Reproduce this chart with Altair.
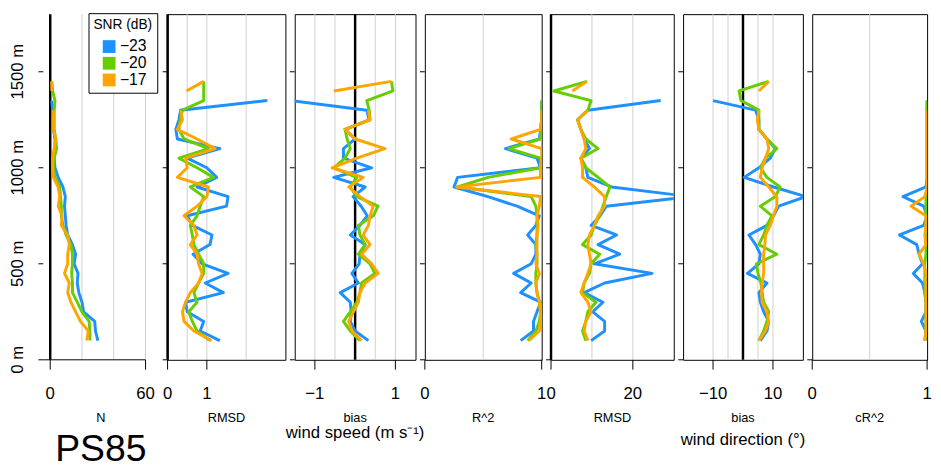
import altair as alt
import pandas as pd

# ---------------- data ----------------
H = [100, 150, 200, 250, 300, 350, 400, 450, 500, 550, 600, 650, 700, 750,
     800, 850, 900, 950, 1000, 1050, 1100, 1150, 1200, 1250, 1300, 1350, 1400, 1450]

SNR = ["\u221223", "\u221220", "\u221217"]
COLORS = ["#1E90FF", "#66CD00", "#FFA500"]

N_m23 = [30, 28.5, 28, 21, 20, 18, 17, 17.5, 15, 16, 14, 11, 10, 9.5, 9, 9.5, 8, 5, 3, 2.5, 3, 3, 2, 2, 1.5, 1, None, None]
N_m20 = [25, 25, 24.5, 20, 17, 14, 14, 13.5, 14, 14, 13, 10, 8, 7, 7, 6.5, 6, 3, 2, 2.5, 4, 3.5, 2.5, 2.5, 2.5, 3, 1.5, 1]
N_m17 = [23, 24, 19, 16, 13, 11, 12, 9, 11, 11, 12, 11, 7, 7.5, 5, 6, 5, 2, 1.5, 1.5, 2.5, 3.5, 2, 2, 2, None, 1, 1]

WS_RMSD_m23 = [1.33, 0.83, 0.92, 0.5, 0.46, 1.42, 0.96, 1.54, 0.88, 0.65, 1.08, 1.13, 0.63, 0.5, 1.5, 1.54, 0.75, 1.25, 1.0, 0.5, 1.33, 0.25, 0.21, 0.29, 0.33, 2.54, None, None]
WS_RMSD_m20 = [1.08, 0.75, 0.63, 0.54, 0.75, 0.67, 0.79, 0.92, 0.92, 0.79, 0.67, 0.63, 0.58, 0.75, 0.83, 0.92, 0.58, 1.17, 0.75, 0.29, 1.04, 0.42, 0.29, 0.32, 0.38, 0.92, 0.92, 0.92]
WS_RMSD_m17 = [1.12, 0.67, 0.42, 0.38, 0.46, 0.58, 0.79, 0.88, 0.79, 0.75, 0.58, 0.75, 0.67, 0.42, 0.75, 1.0, 1.04, 0.25, 0.5, 0.46, 1.21, 0.75, 0.25, 0.38, 0.33, None, 0.48, 0.92]

WS_BIAS_m23 = [0.33, 0.0, -0.12, -0.1, -0.12, -0.37, 0.08, -0.08, 0.1, 0.12, 0.25, -0.12, 0.12, 0.3, 0.15, -0.05, 0.25, -0.53, 0.41, -0.29, -0.29, 0.0, -0.25, 0.35, 0.29, -1.6, None, None]
WS_BIAS_m20 = [0.12, -0.12, -0.29, -0.12, 0.04, 0.12, 0.16, 0.49, 0.37, 0.08, 0.25, 0.12, 0.08, 0.45, 0.57, 0.04, -0.12, 0.04, -0.53, -0.25, -0.12, -0.2, -0.25, 0.37, 0.35, 0.29, 0.94, 0.9]
WS_BIAS_m17 = [0.16, -0.08, -0.16, -0.04, 0.08, 0.12, 0.25, 0.57, 0.41, 0.16, 0.37, 0.2, 0.33, 0.37, 0.45, 0.12, -0.16, 0.2, -0.57, 0.04, 0.74, 0.0, -0.25, 0.37, 0.33, None, -0.53, 0.9]

WS_R2_m23 = [0.82, 0.93, 0.93, 0.96, 0.99, 0.82, 0.91, 0.76, 0.91, 0.95, 0.95, 0.88, 0.95, 0.98, 0.79, 0.54, 0.25, 0.28, 0.99, 0.96, 0.69, 0.98, 0.99, 1.0, 1.0, 1.0, None, None]
WS_R2_m20 = [0.88, 0.95, 0.98, 0.99, 0.98, 0.96, 0.95, 0.95, 0.96, 0.96, 0.95, 0.96, 0.96, 0.96, 0.95, 0.91, 0.28, 0.54, 0.99, 0.99, 0.72, 0.99, 0.99, 1.0, 1.0, 1.0, None, None]
WS_R2_m17 = [0.89, 0.98, 0.99, 0.99, 0.98, 0.96, 0.95, 0.98, 0.95, 0.96, 0.96, 0.96, 0.97, 0.96, 0.98, 0.99, 0.27, 0.99, 0.99, 1.0, 1.0, 0.74, 0.99, 1.0, 1.0, None, None, None]

WD_RMSD_m23 = [9.8, 13.1, 13.1, 10.2, 12.7, 8.1, 13.1, 24.7, 10.6, 16.8, 11.5, 16.0, 9.8, 12.0, 13.5, 34.0, 14.8, 9.0, 8.5, 7.3, 9.4, 8.1, 7.3, 6.5, 9.0, 26.8, None, None]
WD_RMSD_m20 = [8.5, 7.7, 8.5, 9.0, 11.0, 7.7, 8.1, 9.4, 9.8, 11.9, 7.7, 9.8, 10.6, 11.9, 12.7, 13.5, 14.4, 11.5, 8.5, 7.3, 11.5, 8.5, 7.3, 6.5, 9.0, 9.8, 0.7, 8.8]
WD_RMSD_m17 = [9.0, 8.1, 8.5, 9.8, 9.0, 7.3, 8.1, 9.0, 9.8, 9.4, 9.0, 9.4, 10.6, 11.5, 13.1, 13.1, 10.6, 7.7, 7.7, 7.3, 8.5, 8.1, 7.3, 6.5, 9.0, None, 5.2, 8.8]

WD_BIAS_m23 = [5.8, 8.0, 8.6, 6.9, 5.8, 5.3, 8.0, 1.5, 5.3, 5.8, 4.2, 2.0, 8.0, 10.2, 11.9, 21.0, 10.2, 0.4, 5.3, 9.1, 10.8, 8.0, 5.3, 5.3, 4.2, -10.0, None, None]
WD_BIAS_m20 = [5.3, 6.9, 8.0, 8.6, 6.9, 6.4, 6.0, 5.0, 4.5, 11.3, 5.3, 6.9, 8.0, 9.7, 5.8, 10.8, 12.4, 8.0, 5.8, 7.5, 11.3, 8.0, 5.3, 5.3, 5.3, -0.7, -1.3, 8.6]
WD_BIAS_m17 = [5.3, 7.5, 8.6, 8.0, 6.4, 6.2, 6.4, 6.9, 6.9, 6.9, 7.3, 7.5, 9.1, 10.2, 11.3, 11.3, 8.6, 5.8, 6.4, 7.5, 8.6, 8.0, 5.3, 4.8, 5.3, None, 5.3, 8.6]

WD_CR2_m23 = [0.98, 0.99, 0.95, 0.99, 0.99, 0.98, 0.96, 0.88, 0.96, 0.93, 0.91, 0.76, 0.97, 1.0, 0.97, 0.79, 0.99, 1.0, 1.0, 1.0, 1.0, 1.0, 1.0, 1.0, 1.0, 1.0, None, None]
WD_CR2_m20 = [0.99, 0.99, 0.99, 0.99, 0.99, 0.98, 0.98, 0.98, 0.98, 0.99, 0.99, 0.99, 0.99, 0.99, 0.99, 0.99, 1.0, 1.0, 1.0, 1.0, 1.0, 1.0, 1.0, 1.0, 1.0, 1.0, None, None]
WD_CR2_m17 = [0.98, 0.99, 0.99, 0.99, 0.99, 0.99, 0.99, 0.99, 0.97, 0.93, 0.99, 0.98, 0.99, 0.99, 0.86, 0.98, 1.0, 1.0, 1.0, 1.0, 1.0, 1.0, 1.0, 1.0, 1.0, None, None, None]

PANEL_SERIES = [
    [N_m23, N_m20, N_m17],
    [WS_RMSD_m23, WS_RMSD_m20, WS_RMSD_m17],
    [WS_BIAS_m23, WS_BIAS_m20, WS_BIAS_m17],
    [WS_R2_m23, WS_R2_m20, WS_R2_m17],
    [WD_RMSD_m23, WD_RMSD_m20, WD_RMSD_m17],
    [WD_BIAS_m23, WD_BIAS_m20, WD_BIAS_m17],
    [WD_CR2_m23, WD_CR2_m20, WD_CR2_m17],
]
PANEL_TITLES = ["N", "RMSD", "bias", "R^2", "RMSD", "bias", "cR^2"]
PANEL_DOMAINS = [[-4.33, 68.0], [0, 3], [-1.5, 1.5], [0, 1], [0, 30], [-20, 20], [0, 1]]
PANEL_TICKS = [[0, 60], [0, 1], [-1, 1], [0, 1], [0, 20], [-10, 10], [0, 1]]
PANEL_GRIDS = [[20, 40, 60], [0.5, 1, 2], [-1, -0.5, 0.5, 1], [0.5], [10, 20], [-10, -5, 5, 10], [0.5]]
PANEL_ZERO = [True, True, True, False, True, True, False]
PANEL_WIDTHS = [117, 120, 123, 119, 125, 122, 117]
N_AXIS_END = 60

Y_TICKS = [0, 500, 1000, 1500]
Y_DOMAIN = [0, 1800]
GROUP_LABELS = {2: "wind speed (m s\u207b\u00b9)", 5: "wind direction (\u00b0)"}
STATION = "PS85"
LEGEND_TITLE = "SNR (dB)"

FONT = "Liberation Sans"
HEIGHT = 352


def fmt(v):
    return f"{v:g}".replace("-", "\u2212")


def long_df(series):
    rows = []
    for snr, vals in zip(SNR, series):
        seg = 0
        for h, v in zip(H, vals):
            if v is None:
                seg += 1
                continue
            rows.append({"h": h, "v": v, "snr": snr, "seg": f"{snr}_{seg}"})
    return pd.DataFrame(rows)


color_scale = alt.Scale(domain=SNR, range=COLORS)
y_scale = alt.Scale(domain=Y_DOMAIN, nice=False, zero=False)
ytick_df = pd.DataFrame({"yt": Y_TICKS, "lab": [f"{v} m" for v in Y_TICKS]})

panels = []
for i in range(7):
    dom = PANEL_DOMAINS[i]
    w = PANEL_WIDTHS[i]
    xs = alt.Scale(domain=dom, nice=False, zero=False)
    df = long_df(PANEL_SERIES[i])
    tick_df = pd.DataFrame({"t": PANEL_TICKS[i], "lab": [fmt(v) for v in PANEL_TICKS[i]]})

    layers = []
    # legend carrier (zero-size squares), first colour layer of panel 1
    if i == 0:
        layers.append(alt.Chart(df).mark_square(size=0, filled=True, opacity=1).encode(
            x=alt.X("v:Q", scale=xs, axis=None),
            y=alt.Y("h:Q", scale=y_scale, axis=None),
            color=alt.Color("snr:N", scale=color_scale, legend=alt.Legend(
                title=LEGEND_TITLE, orient="none", legendX=46, legendY=-1,
                strokeColor="black", fillColor="white", padding=5,
                symbolType="square", symbolSize=169, symbolStrokeWidth=0,
                symbolOffset=8, labelFontSize=16, titleFontSize=14,
                titleFontWeight="normal", labelOffset=3, rowPadding=1,
                titlePadding=7, labelColor="black", titleColor="black",
                labelFont=FONT, titleFont=FONT))))
    # grid lines
    layers.append(alt.Chart(pd.DataFrame({"g": PANEL_GRIDS[i]})).mark_rule(
        color="#cfcfcf", strokeWidth=1).encode(x=alt.X("g:Q", scale=xs, axis=None)))
    # zero line
    if PANEL_ZERO[i]:
        layers.append(alt.Chart(pd.DataFrame({"z": [0]})).mark_rule(
            color="black", strokeWidth=2.5).encode(x=alt.X("z:Q", scale=xs, axis=None)))

    # data lines, drawn blue, green, orange
    for k, snr in enumerate(SNR):
        sub = df[df["snr"] == snr]
        layers.append(alt.Chart(sub).mark_line(strokeWidth=3, clip=True, strokeJoin="round").encode(
            x=alt.X("v:Q", scale=xs, axis=None),
            y=alt.Y("h:Q", scale=y_scale, axis=None),
            color=alt.Color("snr:N", scale=color_scale, legend=None),
            detail="seg:N",
            order=alt.Order("h:Q"),
        ))

    # x ticks, tick labels and title
    layers.append(alt.Chart(tick_df).mark_rule(color="black", strokeWidth=1).encode(
        x=alt.X("t:Q", scale=xs, axis=None), y=alt.value(HEIGHT), y2=alt.value(HEIGHT + 10)))
    layers.append(alt.Chart(tick_df).mark_text(
        font=FONT, fontSize=17, baseline="alphabetic", align="center", color="black").encode(
        x=alt.X("t:Q", scale=xs, axis=None), y=alt.value(HEIGHT + 40), text="lab:N"))
    layers.append(alt.Chart(pd.DataFrame({"t": [PANEL_TITLES[i]]})).mark_text(
        font=FONT, fontSize=13, baseline="alphabetic", align="center", color="black").encode(
        x=alt.value(w / 2), y=alt.value(HEIGHT + 63), text="t:N"))

    # y ticks
    layers.append(alt.Chart(ytick_df).mark_rule(color="black", strokeWidth=1).encode(
        y=alt.Y("yt:Q", scale=y_scale, axis=None), x=alt.value(-5), x2=alt.value(0)))

    if i == 0:
        layers.append(alt.Chart(ytick_df).mark_text(
            font=FONT, fontSize=17, baseline="alphabetic", align="center", angle=270,
            color="black").encode(
            y=alt.Y("yt:Q", scale=y_scale, axis=None), x=alt.value(-21), text="lab:N"))
        layers.append(alt.Chart(pd.DataFrame({"lo": [dom[0]], "hi": [N_AXIS_END]})).mark_rule(
            color="black", strokeWidth=1).encode(
            x=alt.X("lo:Q", scale=xs, axis=None), x2="hi:Q", y=alt.value(HEIGHT)))
        layers.append(alt.Chart(pd.DataFrame({"t": [STATION]})).mark_text(
            font=FONT, fontSize=38, baseline="alphabetic", align="center", color="black").encode(
            text="t:N", x=alt.value(w / 2), y=alt.value(HEIGHT + 103)))

    if i in GROUP_LABELS:
        yoff = HEIGHT + 80 if i == 2 else HEIGHT + 87
        layers.append(alt.Chart(pd.DataFrame({"t": [GROUP_LABELS[i]]})).mark_text(
            font=FONT, fontSize=17, baseline="alphabetic", align="center", color="black").encode(
            text="t:N", x=alt.value(w / 2), y=alt.value(yoff)))

    props = dict(width=w, height=HEIGHT)
    if i == 0:
        props["view"] = alt.ViewBackground(strokeOpacity=0)
    panels.append(alt.layer(*layers).properties(**props))

chart = alt.hconcat(*panels, spacing=9.5, bounds="flush").properties(
    padding={"left": 1, "top": 0, "right": 0, "bottom": 0}
).configure(font=FONT).configure_view(stroke="black", strokeWidth=1).resolve_scale(color="shared")

chart.save("out.html", embed_options={"renderer": "svg", "actions": False})
